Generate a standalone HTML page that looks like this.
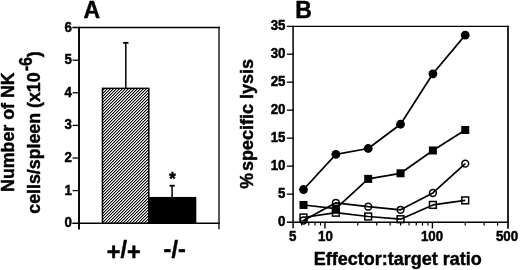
<!DOCTYPE html><html><head><meta charset="utf-8"><style>html,body{margin:0;padding:0;background:#fff;}svg{display:block;will-change:transform;}text{font-family:"Liberation Sans",sans-serif;font-weight:bold;fill:#000;stroke:#000;stroke-width:0.45px;}*{-webkit-font-smoothing:antialiased;}</style></head><body>
<svg width="520" height="270" viewBox="0 0 520 270">
<defs><pattern id="h" patternUnits="userSpaceOnUse" x="0" y="0" width="3" height="3"><rect width="3" height="3" fill="#fff"/><rect x="0" y="0" width="1" height="1" fill="#000"/><rect x="1" y="0" width="1" height="1" fill="#a0a0a0"/><rect x="2" y="1" width="1" height="1" fill="#000"/><rect x="0" y="1" width="1" height="1" fill="#a0a0a0"/><rect x="1" y="2" width="1" height="1" fill="#000"/><rect x="2" y="2" width="1" height="1" fill="#a0a0a0"/></pattern></defs>
<line x1="79.00" y1="26.85" x2="79.00" y2="229.50" stroke="#000" stroke-width="1.90"/>
<line x1="72.30" y1="27.60" x2="219.65" y2="27.60" stroke="#000" stroke-width="1.50"/>
<line x1="219.00" y1="26.85" x2="219.00" y2="229.30" stroke="#000" stroke-width="1.30"/>
<line x1="72.30" y1="223.20" x2="219.65" y2="223.20" stroke="#000" stroke-width="1.60"/>
<line x1="72.60" y1="190.60" x2="79.00" y2="190.60" stroke="#000" stroke-width="1.30"/>
<line x1="72.60" y1="158.00" x2="79.00" y2="158.00" stroke="#000" stroke-width="1.30"/>
<line x1="72.60" y1="125.40" x2="79.00" y2="125.40" stroke="#000" stroke-width="1.30"/>
<line x1="72.60" y1="92.80" x2="79.00" y2="92.80" stroke="#000" stroke-width="1.30"/>
<line x1="72.60" y1="60.20" x2="79.00" y2="60.20" stroke="#000" stroke-width="1.30"/>
<rect x="102.45" y="88.35" width="46.35" height="134.85" fill="url(#h)" stroke="#000" stroke-width="1.5"/>
<rect x="148.1" y="196.95" width="48.2" height="26.25" fill="#000"/>
<line x1="125.80" y1="88.35" x2="125.80" y2="42.80" stroke="#000" stroke-width="1.50"/>
<line x1="123.10" y1="42.80" x2="128.50" y2="42.80" stroke="#000" stroke-width="1.80"/>
<line x1="172.10" y1="197.00" x2="172.10" y2="185.70" stroke="#000" stroke-width="1.50"/>
<line x1="169.50" y1="185.70" x2="174.80" y2="185.70" stroke="#000" stroke-width="1.80"/>
<text x="172.4" y="185.4" font-size="17.6" text-anchor="middle">*</text>
<text transform="translate(72.0,227.20) scale(1,1.07)" font-size="13.3" text-anchor="end">0</text>
<text transform="translate(72.0,194.60) scale(1,1.07)" font-size="13.3" text-anchor="end">1</text>
<text transform="translate(72.0,162.00) scale(1,1.07)" font-size="13.3" text-anchor="end">2</text>
<text transform="translate(72.0,129.40) scale(1,1.07)" font-size="13.3" text-anchor="end">3</text>
<text transform="translate(72.0,96.80) scale(1,1.07)" font-size="13.3" text-anchor="end">4</text>
<text transform="translate(72.0,64.20) scale(1,1.07)" font-size="13.3" text-anchor="end">5</text>
<text transform="translate(72.0,31.60) scale(1,1.07)" font-size="13.3" text-anchor="end">6</text>
<text x="83.5" y="18.3" font-size="23">A</text>
<text x="123.75" y="258.3" font-size="23.5" text-anchor="middle"><tspan dy="1.6">+</tspan><tspan dy="-1.6">/</tspan><tspan dy="1.6">+</tspan></text>
<text x="174.7" y="258.3" font-size="23.5" text-anchor="middle"><tspan dy="-1">-</tspan><tspan dy="1">/</tspan><tspan dy="-1">-</tspan></text>
<text transform="translate(13.8,191.9) rotate(-90)" font-size="17.8">Number of NK</text>
<g transform="translate(40.4,213.7) rotate(-90)">
<text x="0" y="0" font-size="17.8">cells/spleen (x10</text>
<text transform="translate(142.4,-8.9) scale(0.92,1)" font-size="17.5">-6</text>
<text x="156.5" y="0" font-size="17.8">)</text>
</g>
<line x1="293.10" y1="25.70" x2="293.10" y2="228.30" stroke="#000" stroke-width="1.50"/>
<line x1="286.90" y1="26.40" x2="508.85" y2="26.40" stroke="#000" stroke-width="1.40"/>
<line x1="508.00" y1="25.70" x2="508.00" y2="228.70" stroke="#000" stroke-width="1.70"/>
<line x1="286.90" y1="222.30" x2="508.85" y2="222.30" stroke="#000" stroke-width="1.50"/>
<line x1="286.90" y1="194.11" x2="293.10" y2="194.11" stroke="#000" stroke-width="1.30"/>
<line x1="286.90" y1="166.13" x2="293.10" y2="166.13" stroke="#000" stroke-width="1.30"/>
<line x1="286.90" y1="138.14" x2="293.10" y2="138.14" stroke="#000" stroke-width="1.30"/>
<line x1="286.90" y1="110.16" x2="293.10" y2="110.16" stroke="#000" stroke-width="1.30"/>
<line x1="286.90" y1="82.17" x2="293.10" y2="82.17" stroke="#000" stroke-width="1.30"/>
<line x1="286.90" y1="54.19" x2="293.10" y2="54.19" stroke="#000" stroke-width="1.30"/>
<line x1="324.95" y1="222.30" x2="324.95" y2="228.40" stroke="#000" stroke-width="1.40"/>
<line x1="432.40" y1="222.30" x2="432.40" y2="228.40" stroke="#000" stroke-width="1.40"/>
<line x1="301.61" y1="222.30" x2="301.61" y2="225.60" stroke="#000" stroke-width="1.20"/>
<line x1="308.80" y1="222.30" x2="308.80" y2="225.60" stroke="#000" stroke-width="1.20"/>
<line x1="315.03" y1="222.30" x2="315.03" y2="225.60" stroke="#000" stroke-width="1.20"/>
<line x1="320.53" y1="222.30" x2="320.53" y2="225.60" stroke="#000" stroke-width="1.20"/>
<line x1="357.79" y1="222.30" x2="357.79" y2="225.60" stroke="#000" stroke-width="1.20"/>
<line x1="376.71" y1="222.30" x2="376.71" y2="225.60" stroke="#000" stroke-width="1.20"/>
<line x1="390.14" y1="222.30" x2="390.14" y2="225.60" stroke="#000" stroke-width="1.20"/>
<line x1="400.55" y1="222.30" x2="400.55" y2="225.60" stroke="#000" stroke-width="1.20"/>
<line x1="409.06" y1="222.30" x2="409.06" y2="225.60" stroke="#000" stroke-width="1.20"/>
<line x1="416.25" y1="222.30" x2="416.25" y2="225.60" stroke="#000" stroke-width="1.20"/>
<line x1="422.48" y1="222.30" x2="422.48" y2="225.60" stroke="#000" stroke-width="1.20"/>
<line x1="427.98" y1="222.30" x2="427.98" y2="225.60" stroke="#000" stroke-width="1.20"/>
<line x1="465.24" y1="222.30" x2="465.24" y2="225.60" stroke="#000" stroke-width="1.20"/>
<line x1="484.16" y1="222.30" x2="484.16" y2="225.60" stroke="#000" stroke-width="1.20"/>
<line x1="497.59" y1="222.30" x2="497.59" y2="225.60" stroke="#000" stroke-width="1.20"/>
<text transform="translate(285.5,226.10) scale(1,1.07)" font-size="13.3" text-anchor="end">0</text>
<text transform="translate(285.5,198.11) scale(1,1.07)" font-size="13.3" text-anchor="end">5</text>
<text transform="translate(285.5,170.13) scale(1,1.07)" font-size="13.3" text-anchor="end">10</text>
<text transform="translate(285.5,142.14) scale(1,1.07)" font-size="13.3" text-anchor="end">15</text>
<text transform="translate(285.5,114.16) scale(1,1.07)" font-size="13.3" text-anchor="end">20</text>
<text transform="translate(285.5,86.17) scale(1,1.07)" font-size="13.3" text-anchor="end">25</text>
<text transform="translate(285.5,58.19) scale(1,1.07)" font-size="13.3" text-anchor="end">30</text>
<text transform="translate(285.5,30.20) scale(1,1.07)" font-size="13.3" text-anchor="end">35</text>
<text transform="translate(292.60,241.3) scale(1,1.07)" font-size="13.3" text-anchor="middle">5</text>
<text transform="translate(325.45,241.3) scale(1,1.07)" font-size="13.3" text-anchor="middle">10</text>
<text transform="translate(432.05,241.3) scale(1,1.07)" font-size="13.3" text-anchor="middle">100</text>
<text transform="translate(507.00,241.3) scale(1,1.07)" font-size="13.3" text-anchor="middle">500</text>
<text x="295.2" y="17.5" font-size="23">B</text>
<text x="313.7" y="264.6" font-size="18">Effector:target ratio</text>
<g transform="translate(252.8,188.85) rotate(-90)"><text x="0" y="0" font-size="17.7">%</text><text x="17.9" y="0" font-size="18">specific lysis</text></g>
<g stroke="#000" stroke-width="1.7" fill="none" stroke-linejoin="round">
<polyline points="303.51,189.52 335.86,154.37 368.20,148.50 400.55,124.26 432.90,73.78 465.24,35.16"/>
<polyline points="303.51,204.97 335.86,208.67 368.20,178.89 400.55,173.29 432.90,150.46 465.24,129.97"/>
<polyline points="303.51,220.48 335.86,202.79 368.20,206.71 400.55,209.79 432.90,192.99 465.24,163.67"/>
<polyline points="303.51,217.51 335.86,212.70 368.20,216.50 400.55,219.19 432.90,204.92 465.24,200.38"/>
</g>
<circle cx="303.51" cy="189.52" r="4.4" fill="#000"/>
<circle cx="335.86" cy="154.37" r="4.4" fill="#000"/>
<circle cx="368.20" cy="148.50" r="4.4" fill="#000"/>
<circle cx="400.55" cy="124.26" r="4.4" fill="#000"/>
<circle cx="432.90" cy="73.78" r="4.4" fill="#000"/>
<circle cx="465.24" cy="35.16" r="4.4" fill="#000"/>
<rect x="299.51" y="200.97" width="8" height="8" fill="#000"/>
<rect x="331.86" y="204.67" width="8" height="8" fill="#000"/>
<rect x="364.20" y="174.89" width="8" height="8" fill="#000"/>
<rect x="396.55" y="169.29" width="8" height="8" fill="#000"/>
<rect x="428.90" y="146.46" width="8" height="8" fill="#000"/>
<rect x="461.24" y="125.97" width="8" height="8" fill="#000"/>
<circle cx="303.51" cy="220.48" r="3.4" fill="none" stroke="#000" stroke-width="1.5"/>
<circle cx="335.86" cy="202.79" r="3.4" fill="none" stroke="#000" stroke-width="1.5"/>
<circle cx="368.20" cy="206.71" r="3.4" fill="none" stroke="#000" stroke-width="1.5"/>
<circle cx="400.55" cy="209.79" r="3.4" fill="none" stroke="#000" stroke-width="1.5"/>
<circle cx="432.90" cy="192.99" r="3.4" fill="none" stroke="#000" stroke-width="1.5"/>
<circle cx="465.24" cy="163.67" r="3.4" fill="none" stroke="#000" stroke-width="1.5"/>
<rect x="300.11" y="214.11" width="6.8" height="6.8" fill="none" stroke="#000" stroke-width="1.5"/>
<rect x="332.46" y="209.30" width="6.8" height="6.8" fill="none" stroke="#000" stroke-width="1.5"/>
<rect x="364.80" y="213.10" width="6.8" height="6.8" fill="none" stroke="#000" stroke-width="1.5"/>
<rect x="397.15" y="215.79" width="6.8" height="6.8" fill="none" stroke="#000" stroke-width="1.5"/>
<rect x="429.50" y="201.52" width="6.8" height="6.8" fill="none" stroke="#000" stroke-width="1.5"/>
<rect x="461.84" y="196.98" width="6.8" height="6.8" fill="none" stroke="#000" stroke-width="1.5"/>
</svg></body></html>
